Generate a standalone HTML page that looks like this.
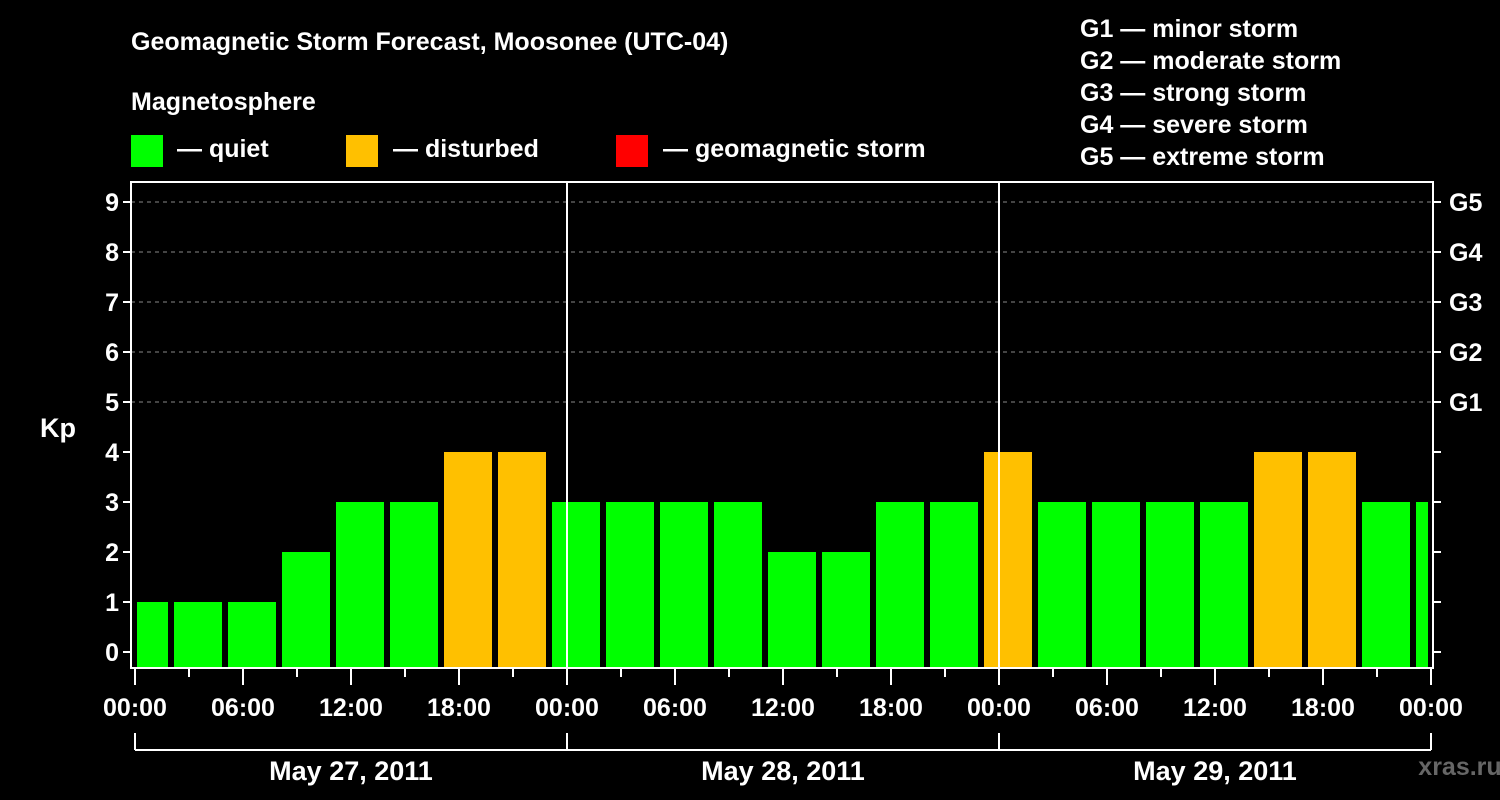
<!DOCTYPE html>
<html><head><meta charset="utf-8"><style>
html,body{margin:0;padding:0;background:#000;}
svg{display:block;font-family:"Liberation Sans",Arial,sans-serif;font-weight:bold;}
</style></head><body>
<svg id="chart" width="1500" height="800" viewBox="0 0 1500 800">
<rect x="0" y="0" width="1500" height="800" fill="#000"/>
<text x="131" y="50" fill="#fff" font-size="25">Geomagnetic Storm Forecast, Moosonee (UTC-04)</text>
<text x="131" y="110" fill="#fff" font-size="25">Magnetosphere</text>
<g><rect x="131" y="135" width="32" height="32" fill="#00ff00"/><text x="177" y="157" fill="#fff" font-size="25">— quiet</text></g>
<g><rect x="346" y="135" width="32" height="32" fill="#ffc000"/><text x="393" y="157" fill="#fff" font-size="25">— disturbed</text></g>
<g><rect x="616" y="135" width="32" height="32" fill="#ff0000"/><text x="663" y="157" fill="#fff" font-size="25">— geomagnetic storm</text></g>
<g fill="#fff" font-size="25">
<text x="1080" y="37">G1 — minor storm</text>
<text x="1080" y="69">G2 — moderate storm</text>
<text x="1080" y="101">G3 — strong storm</text>
<text x="1080" y="133">G4 — severe storm</text>
<text x="1080" y="165">G5 — extreme storm</text>
</g>
<text x="40" y="437" fill="#fff" font-size="27">Kp</text>
<text x="1460" y="775" fill="#666" font-size="25" text-anchor="middle">xras.ru</text>
<g id="grid"></g><g id="bars"></g><g id="axes"></g>
</svg>
<script>
const kpValues=[1,1,1,2,3,3,4,4,3,3,3,3,2,2,3,3,4,3,3,3,3,4,4,3,3];
const firstBarStartHour=-1;
const barHours=3;
const dayLabels=["May 27, 2011","May 28, 2011","May 29, 2011"];
const hourTickLabels=["00:00","06:00","12:00","18:00"];
const gLabels=["G1","G2","G3","G4","G5"];
const yTicks=[0,1,2,3,4,5,6,7,8,9];

const NS="http://www.w3.org/2000/svg";
const X0=135,PXH=18,Y0=652,PXK=50,L=131,R=1433,T=182,B=668;
const xS=h=>X0+h*PXH, yS=v=>Y0-v*PXK;
function el(tag,attrs,parent){const e=document.createElementNS(NS,tag);for(const k in attrs)e.setAttribute(k,attrs[k]);parent.appendChild(e);return e;}
const grid=document.getElementById('grid'),bars=document.getElementById('bars'),axes=document.getElementById('axes');
// grid
for(let v=5;v<=9;v++){const g=el('line',{x1:L,x2:R,y1:yS(v),y2:yS(v),stroke:'#888','stroke-dasharray':'4 4','stroke-width':1},grid);

}
// bars
kpValues.forEach((v,i)=>{
 const s=firstBarStartHour+i*barHours,e=s+barHours;
 let x1=xS(s)+3,x2=xS(e)-3;
 x1=Math.max(x1,L+6);x2=Math.min(x2,R-5);
 const col=v>=5?'#ff0000':(v>=4?'#ffc000':'#00ff00');
 const r=el('rect',{x:x1,y:yS(v),width:x2-x1,height:B-yS(v),fill:col},bars);
 
 
});
// day separators
for(let d=1;d<dayLabels.length;d++){const l=el('line',{x1:xS(24*d),x2:xS(24*d),y1:T,y2:B,stroke:'#fff','stroke-width':2},axes);

}
// frame
const f=el('rect',{x:L,y:T,width:R-L,height:B-T,fill:'none',stroke:'#fff','stroke-width':2},axes);


// y ticks
yTicks.forEach(v=>{
 el('line',{x1:L-8,x2:L,y1:yS(v),y2:yS(v),stroke:'#fff','stroke-width':2},axes);
 el('line',{x1:R,x2:R+8,y1:yS(v),y2:yS(v),stroke:'#fff','stroke-width':2},axes);
 const t=el('text',{x:L-12,y:yS(v)+9,fill:'#fff','font-size':25,'text-anchor':'end'},axes);t.textContent=v;
 
 
});
gLabels.forEach((g,i)=>{const t=el('text',{x:R+16,y:yS(5+i)+9,fill:'#fff','font-size':25},axes);t.textContent=g;
 
 });
// x ticks
const totalH=24*dayLabels.length;
for(let h=0;h<=totalH;h+=3){
 const major=h%6===0;
 el('line',{x1:xS(h),x2:xS(h),y1:B,y2:B+(major?17:9),stroke:'#fff','stroke-width':2},axes);
 if(major&&(h%24)%6===0){
  const lab=h===totalH?hourTickLabels[0]:hourTickLabels[(h%24)/6];
  const t=el('text',{x:xS(h),y:716,fill:'#fff','font-size':25,'text-anchor':'middle'},axes);t.textContent=lab;
  
  
 }
}
// day brackets
el('line',{x1:xS(0),x2:xS(totalH),y1:750,y2:750,stroke:'#fff','stroke-width':2},axes);
for(let d=0;d<=dayLabels.length;d++)el('line',{x1:xS(24*d),x2:xS(24*d),y1:733,y2:750,stroke:'#fff','stroke-width':2},axes);
dayLabels.forEach((d,i)=>{const t=el('text',{x:xS(24*i+12),y:780,fill:'#fff','font-size':27,'text-anchor':'middle'},axes);t.textContent=d;
 
 });
</script>
</body></html>
